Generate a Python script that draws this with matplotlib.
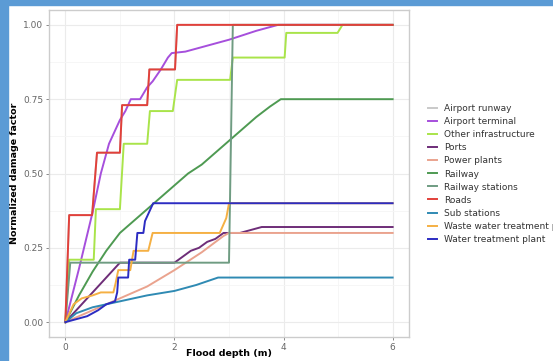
import matplotlib.pyplot as plt
from matplotlib.patches import Rectangle

# data (flood depth in m, normalized damage factor)
roads_x = [0, 0.07, 0.49, 0.58, 1.0, 1.04, 1.5, 1.54, 2.01, 2.05, 6]
roads_y = [0, 0.36, 0.36, 0.57, 0.57, 0.73, 0.73, 0.85, 0.85, 1.0, 1.0]

runway_x = roads_x
runway_y = roads_y

terminal_x = [0, 0.25, 0.5, 0.65, 0.8, 1.0, 1.1, 1.2, 1.37, 1.5, 1.6, 1.75, 1.88, 1.95, 2.2, 2.5, 3.0, 3.5, 3.9, 6]
terminal_y = [0, 0.18, 0.37, 0.5, 0.6, 0.68, 0.71, 0.75, 0.75, 0.79, 0.81, 0.85, 0.89, 0.905, 0.91, 0.925, 0.95, 0.98, 1.0, 1.0]

other_x = [0, 0.07, 0.52, 0.56, 1.0, 1.07, 1.5, 1.55, 1.97, 2.05, 3.02, 3.07, 4.02, 4.05, 4.99, 5.08, 6]
other_y = [0, 0.21, 0.21, 0.38, 0.38, 0.6, 0.6, 0.71, 0.71, 0.815, 0.815, 0.89, 0.89, 0.973, 0.973, 1.0, 1.0]

ports_x = [0, 1.0, 2.0, 2.15, 2.3, 2.45, 2.6, 2.75, 2.9, 3.2, 3.4, 3.6, 6]
ports_y = [0, 0.2, 0.2, 0.22, 0.24, 0.25, 0.27, 0.28, 0.30, 0.30, 0.31, 0.32, 0.32]

power_x = [0, 0.5, 1.0, 1.5, 2.0, 2.5, 2.9, 3.0, 6]
power_y = [0, 0.04, 0.08, 0.12, 0.175, 0.235, 0.29, 0.30, 0.30]

railway_x = [0, 0.25, 0.5, 0.75, 1.0, 1.25, 1.5, 1.75, 2.0, 2.25, 2.5, 2.75, 3.0, 3.25, 3.5, 3.75, 3.95, 6]
railway_y = [0, 0.09, 0.17, 0.24, 0.30, 0.34, 0.38, 0.42, 0.46, 0.5, 0.53, 0.57, 0.61, 0.65, 0.69, 0.725, 0.75, 0.75]

stations_x = [0, 0.09, 3.0, 3.07, 6]
stations_y = [0, 0.2, 0.2, 1.0, 1.0]

sub_x = [0, 0.2, 0.5, 1.0, 1.5, 2.0, 2.4, 2.8, 6]
sub_y = [0, 0.03, 0.05, 0.07, 0.09, 0.105, 0.125, 0.15, 0.15]

waste_x = [0, 0.15, 0.3, 0.5, 0.65, 0.88, 0.92, 0.97, 1.19, 1.25, 1.52, 1.6, 2.83, 2.95, 3.0, 6]
waste_y = [0, 0.06, 0.08, 0.09, 0.1, 0.1, 0.13, 0.175, 0.175, 0.24, 0.24, 0.30, 0.30, 0.35, 0.40, 0.40]

water_x = [0, 0.2, 0.4, 0.6, 0.75, 0.91, 0.95, 0.97, 1.15, 1.17, 1.28, 1.32, 1.43, 1.46, 1.61, 6]
water_y = [0, 0.01, 0.02, 0.04, 0.06, 0.07, 0.10, 0.15, 0.15, 0.21, 0.21, 0.30, 0.30, 0.34, 0.40, 0.40]

series = [
    ("Airport runway", runway_x, runway_y, "#c9c9c9"),
    ("Airport terminal", terminal_x, terminal_y, "#a64fdc"),
    ("Other infrastructure", other_x, other_y, "#a9e44a"),
    ("Ports", ports_x, ports_y, "#6e2d78"),
    ("Power plants", power_x, power_y, "#eaa38e"),
    ("Railway", railway_x, railway_y, "#4e9a52"),
    ("Railway stations", stations_x, stations_y, "#6f9c82"),
    ("Roads", roads_x, roads_y, "#e2403a"),
    ("Sub stations", sub_x, sub_y, "#2f8ab3"),
    ("Waste water treatment plant", waste_x, waste_y, "#f5b043"),
    ("Water treatment plant", water_x, water_y, "#2c2cc2"),
]

fig = plt.figure(figsize=(5.53, 3.61), dpi=100)
fig.patches.append(Rectangle((0, 0), 8/553, 1, transform=fig.transFigure, color="#5b9bd5", zorder=0))
fig.patches.append(Rectangle((0, 1-5/361), 1, 5/361, transform=fig.transFigure, color="#5b9bd5", zorder=0))

ax = fig.add_axes([49/553, 24/361, 360/553, 327/361])
for name, x, y, c in series:
    ax.plot(x, y, color=c, lw=1.4, label=name)

ax.set_xlim(-0.3, 6.3); ax.set_ylim(-0.05, 1.05)
ax.set_xticks([0, 2, 4, 6]); ax.set_yticks([0, 0.25, 0.5, 0.75, 1.0])
ax.set_yticklabels(["0.00", "0.25", "0.50", "0.75", "1.00"])
ax.set_xticks([1, 3, 5], minor=True); ax.set_yticks([0.125, 0.375, 0.625, 0.875], minor=True)
ax.grid(True, which="major", color="#ebebeb", lw=0.8)
ax.grid(True, which="minor", color="#f5f5f5", lw=0.6)
ax.set_axisbelow(True)
for s in ax.spines.values():
    s.set_color("#cccccc"); s.set_linewidth(1.0)
ax.tick_params(which="major", colors="#777777", labelcolor="#666666", labelsize=6.5, length=2.5, width=0.6, pad=1.5)
ax.tick_params(which="minor", length=0)
ax.set_xlabel("Flood depth (m)", fontsize=6.8, fontweight="bold")
ax.xaxis.set_label_coords(0.5, -0.036)
ax.set_ylabel("Normalized damage factor", fontsize=6.8, fontweight="bold", labelpad=3)

fig.legend(loc="center left", bbox_to_anchor=(423/553, 1-174/361), frameon=False, fontsize=6.5,
           handlelength=1.1, handletextpad=0.7, labelspacing=0.45, borderpad=0, labelcolor="#333333")
fig.savefig("out.png", dpi=100)
